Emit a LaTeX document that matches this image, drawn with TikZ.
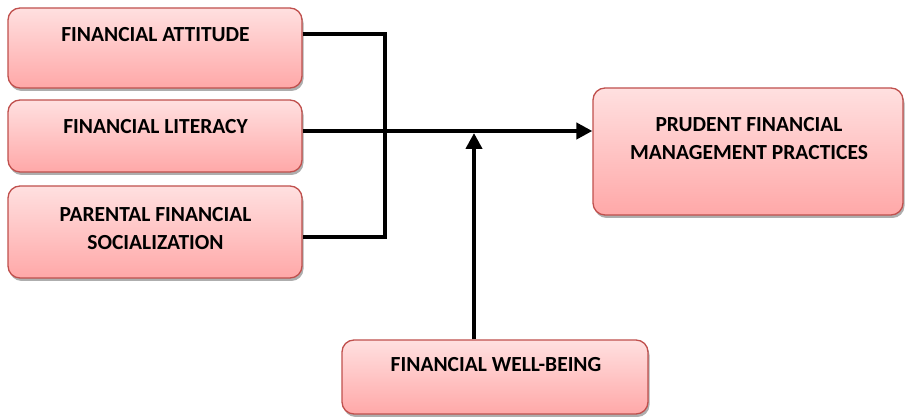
\documentclass[tikz,border=0pt]{standalone}
\usepackage{fontspec}
\setmainfont{Carlito}
\usetikzlibrary{shadows,arrows.meta,calc}
\definecolor{boxtop}{HTML}{FFE0E0}
\definecolor{boxbot}{HTML}{FFA8A8}
\definecolor{boxedge}{HTML}{C0504D}
\tikzset{
  pbox/.style={draw=boxedge, line width=1.3pt, rounded corners=12pt,
    top color=boxtop, bottom color=boxbot,
    drop shadow={shadow xshift=1.5pt, shadow yshift=-3pt, opacity=0.45, fill=black!70},
    inner sep=0pt},
  ptext/.style={font=\fontsize{21.5}{28}\selectfont\bfseries, align=center, inner sep=0pt},
  conn/.style={line width=4pt, black},
  connsh/.style={line width=4pt, black!40},
  arr/.style={-{Triangle[length=16pt,width=16pt]}}
}
\begin{document}
\begin{tikzpicture}[x=1pt,y=1pt]
\useasboundingbox (0,0) rectangle (906,417);
% boxes
\node[pbox, minimum width=294pt, minimum height=80pt] (b1) at (155,369) {};
\node[pbox, minimum width=294pt, minimum height=72pt] (b2) at (155,281) {};
\node[pbox, minimum width=294pt, minimum height=92pt] (b3) at (155,185) {};
\node[pbox, minimum width=310pt, minimum height=127pt] (r) at (748,265.5) {};
\node[pbox, minimum width=306pt, minimum height=74pt] (w) at (495,40) {};
% texts
\node[ptext] (t1) at (155.5,382) {FINANCIAL ATTITUDE};
\node[ptext] (t2) at (155.5,290) {FINANCIAL LITERACY};
\node[ptext] (t3) at (155.5,188) {PARENTAL FINANCIAL\\SOCIALIZATION};
\node[ptext] (tr) at (749,278) {PRUDENT FINANCIAL\\MANAGEMENT PRACTICES};
\node[ptext] (tw) at (496,52) {FINANCIAL WELL-BEING};
% connector coordinates
\coordinate (v1) at (385,383);
\coordinate (v3) at (385,180);
\coordinate (j) at (474,286);
% shadows of connectors
\begin{scope}[shift={(1pt,-2.5pt)}]
\draw[connsh] (b1.east |- v1) -- (v1) -- (v3) -- (b3.east |- v3);
\draw[connsh] (b2.east |- j) -- ($(r.west |- j)+(-14pt,0)$);
\end{scope}
% connectors
\draw[conn, line join=miter] (b1.east |- v1) -- (v1) -- (v3) -- (b3.east |- v3);
\draw[conn, arr] (b2.east |- j) -- (r.west |- j);
\draw[conn, arr] (w.north -| j) -- ($(j)+(0,-2pt)$);
\end{tikzpicture}
\end{document}
